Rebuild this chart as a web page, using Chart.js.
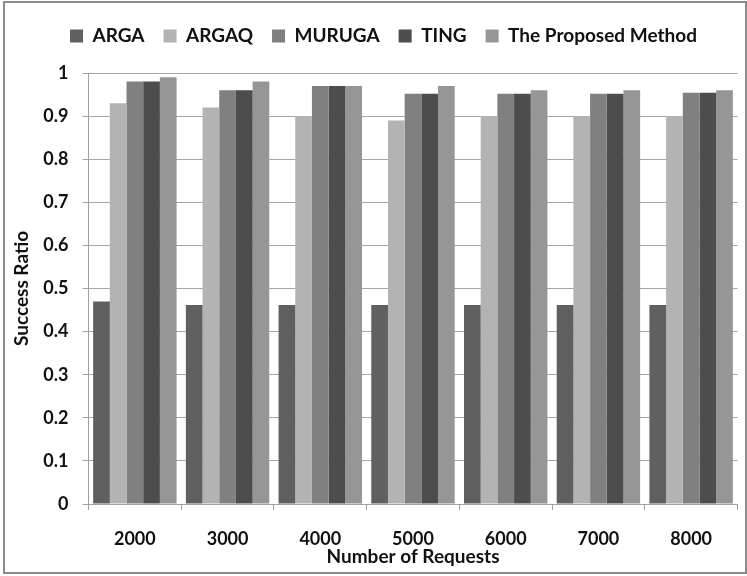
<!DOCTYPE html>
<html>
<head>
<meta charset="utf-8">
<script src="https://cdn.jsdelivr.net/npm/chart.js@4"></script>
<style>
  body { margin: 0; background: #fff; }
  #wrap { position: absolute; left: 0; top: 0; width: 747px; height: 576px; }
  #frame { position: absolute; left: 3px; top: 1px; width: 740px; height: 569px; border: 2px solid #8c8c8c; pointer-events: none; }
</style>
</head>
<body>
<div id="wrap"><canvas id="bar-chart"></canvas></div>
<div id="frame"></div>
<script>
// data
const requests = ['2000', '3000', '4000', '5000', '6000', '7000', '8000'];
const arga = [0.47, 0.462, 0.462, 0.462, 0.462, 0.462, 0.462];
const argaq = [0.93, 0.92, 0.90, 0.89, 0.90, 0.90, 0.90];
const muruga = [0.98, 0.96, 0.97, 0.952, 0.952, 0.952, 0.954];
const ting = [0.98, 0.96, 0.97, 0.952, 0.952, 0.952, 0.954];
const proposed = [0.99, 0.98, 0.97, 0.97, 0.96, 0.96, 0.96];

const lato = "Lato, 'Liberation Sans', Arial, sans-serif";

// push the legend right and leave room under it
const legendTweak = {
  id: 'legendTweak',
  beforeInit(chart) {
    const fit = chart.legend.fit;
    chart.legend.fit = function () {
      fit.bind(chart.legend)();
      this.height += 17.5;
    };
  },
  afterLayout(chart) {
    chart.legend.left = 51;
  }
};

const dataSuccess = {
  labels: requests,
  datasets: [
    { label: 'ARGA', data: arga, backgroundColor: '#606060' },
    { label: 'ARGAQ', data: argaq, backgroundColor: '#b3b3b3' },
    { label: 'MURUGA', data: muruga, backgroundColor: '#808080' },
    { label: 'TING', data: ting, backgroundColor: '#4d4d4d' },
    { label: 'The Proposed Method', data: proposed, backgroundColor: '#969696' },
  ]
};

const optionsSuccess = {
  responsive: true,
  maintainAspectRatio: false,
  animation: false,
  layout: { padding: { top: 7.5, left: 10, right: 9.5, bottom: 5 } },
  datasets: { bar: { categoryPercentage: 0.9, barPercentage: 1, borderWidth: 0 } },
  scales: {
    x: {
      afterFit(scale) { scale.height -= 22.4; },
      grid: { drawOnChartArea: false, color: '#a0a0a0', tickLength: 6 },
      border: { color: '#a0a0a0' },
      ticks: { color: '#111', padding: 18, font: { family: lato, size: 18, weight: 'bold' } },
      title: {
        display: true,
        text: 'Number of Requests',
        color: '#111',
        padding: { top: 0, bottom: 3 },
        font: { family: lato, size: 19, weight: 'bold' }
      }
    },
    y: {
      min: 0,
      max: 1,
      afterFit(scale) { scale.width = 78.5; },
      grid: { color: '#a6a6a6', tickLength: 6 },
      border: { color: '#a0a0a0' },
      ticks: {
        stepSize: 0.1,
        color: '#111',
        padding: 14,
        font: { family: lato, size: 18, weight: 'bold' },
        callback: v => +v.toFixed(1)
      },
      title: {
        display: true,
        text: 'Success Ratio',
        color: '#111',
        padding: 0,
        font: { family: lato, size: 19, weight: 'bold' }
      }
    }
  },
  plugins: {
    legend: {
      align: 'start',
      labels: {
        boxWidth: 13,
        boxHeight: 13,
        padding: 19,
        color: '#111',
        font: { family: lato, size: 19, weight: 'bold' }
      }
    },
    tooltip: { enabled: false }
  }
};

const chart = new Chart(document.getElementById('bar-chart'), {
  type: 'bar',
  data: dataSuccess,
  options: optionsSuccess,
  plugins: [legendTweak]
});
</script>
</body>
</html>
